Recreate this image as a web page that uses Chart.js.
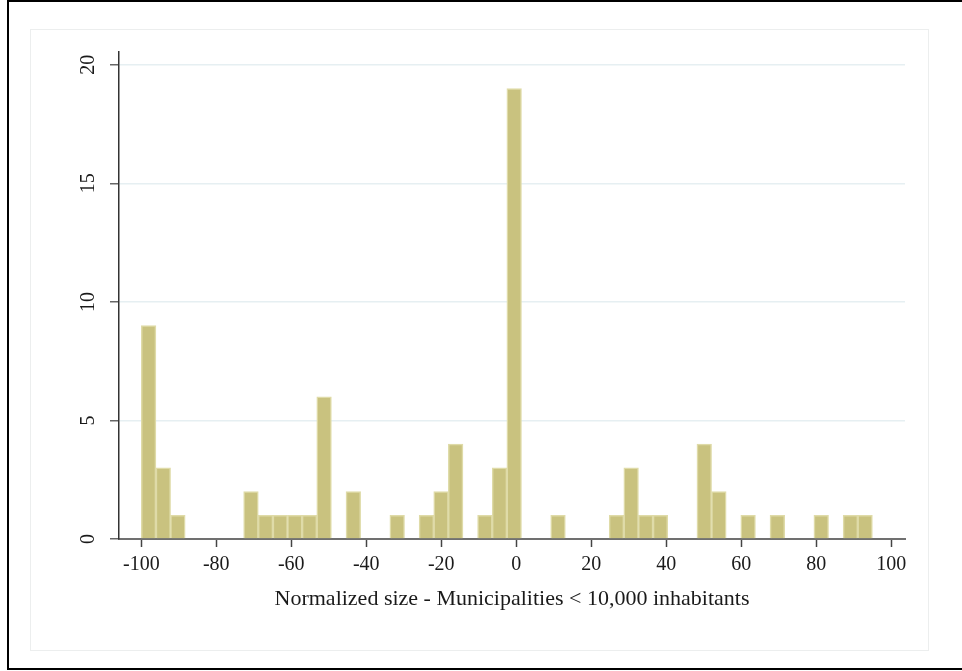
<!DOCTYPE html>
<html>
<head>
<meta charset="utf-8">
<script src="https://cdn.jsdelivr.net/npm/chart.js@4/dist/chart.umd.min.js"></script>
<style>
  html, body { margin: 0; padding: 0; background: #fff; }
  canvas { display: block; }
</style>
</head>
<body>
<canvas id="hist" width="962" height="671"></canvas>
<script>
// histogram bins (left edge of first bin, width of each bin)
const binStart = -100;
const binWidth = 3.9;
const counts = [
    9, 3, 1, 0, 0, 0, 0, 2, 1, 1,
    1, 1, 6, 0, 2, 0, 0, 1, 0, 1,
    2, 4, 0, 1, 3, 19, 0, 0, 1, 0,
    0, 0, 1, 3, 1, 1, 0, 0, 4, 2,
    0, 1, 0, 1, 0, 0, 1, 0, 1, 1
];
const xTicks = [-100, -80, -60, -40, -20, 0, 20, 40, 60, 80, 100];
const yTicks = [0, 5, 10, 15, 20];
const xTitle = 'Normalized size - Municipalities < 10,000 inhabitants';

const points = counts.map((c, i) => ({ x: binStart + (i + 0.5) * binWidth, y: c }));

const FONT = '"Liberation Serif", "Times New Roman", serif';

// frame of the graph + rotated y labels
const framePlugin = {
    id: 'frame',
    beforeDraw(chart) {
        const ctx = chart.ctx;
        ctx.save();
        ctx.fillStyle = '#fff';
        ctx.fillRect(0, 0, chart.width, chart.height);
        ctx.strokeStyle = '#000';
        ctx.lineWidth = 2;
        ctx.strokeRect(8, 1, 980, 668);
        ctx.strokeStyle = '#eceeee';
        ctx.lineWidth = 1;
        ctx.strokeRect(30.5, 29.5, 898, 621);
        ctx.restore();
    },
    afterDraw(chart) {
        const ctx = chart.ctx;
        const y = chart.scales.y;
        ctx.save();
        ctx.fillStyle = '#1a1a1a';
        ctx.font = '20px ' + FONT;
        ctx.textAlign = 'center';
        ctx.textBaseline = 'middle';
        yTicks.forEach(v => {
            ctx.save();
            ctx.translate(89, y.getPixelForValue(v));
            ctx.rotate(-Math.PI / 2);
            ctx.fillText(String(v), 0, 0);
            ctx.restore();
        });
        ctx.restore();
    }
};

new Chart(document.getElementById('hist'), {
    type: 'bar',
    data: {
        datasets: [{
            data: points,
            backgroundColor: 'rgb(201, 194, 127)',
            borderColor: 'rgb(223, 219, 168)',
            borderWidth: 1.5,
            barPercentage: 1,
            categoryPercentage: 1
        }]
    },
    options: {
        responsive: false,
        animation: false,
        devicePixelRatio: 1,
        layout: { padding: { left: 40, right: 57, top: 52, bottom: 0 } },
        plugins: { legend: { display: false }, tooltip: { enabled: false } },
        scales: {
            x: {
                type: 'linear',
                offset: false,
                min: -105.95,
                max: 103.7,
                afterBuildTicks: s => { s.ticks = xTicks.map(v => ({ value: v })); },
                afterFit: s => { s.height = 132; },
                grid: {
                    offset: false,
                    drawOnChartArea: false,
                    drawTicks: true,
                    tickLength: 8,
                    tickColor: '#444',
                    tickWidth: 1.5
                },
                border: { color: '#707070', width: 2 },
                ticks: {
                    font: { family: FONT, size: 20 },
                    color: '#1a1a1a',
                    padding: 6,
                    maxRotation: 0,
                    autoSkip: false
                },
                title: {
                    display: true,
                    text: xTitle,
                    font: { family: FONT, size: 22 },
                    color: '#1a1a1a',
                    padding: { top: 0, bottom: 59 }
                }
            },
            y: {
                min: 0,
                max: 20.54,
                afterBuildTicks: s => { s.ticks = yTicks.map(v => ({ value: v })); },
                afterFit: s => { s.width = 79; },
                grid: {
                    color: '#e6eff2',
                    lineWidth: 1.5,
                    drawTicks: true,
                    tickLength: 9,
                    tickColor: '#666',
                    tickWidth: 1.5
                },
                border: { color: '#333', width: 1.5 },
                ticks: { display: false }
            }
        }
    },
    plugins: [framePlugin]
});
</script>
</body>
</html>
